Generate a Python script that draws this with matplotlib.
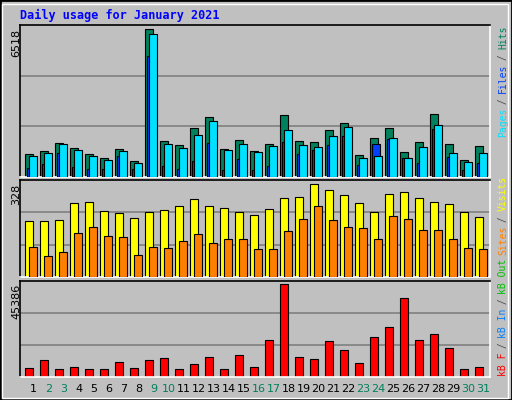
import matplotlib
matplotlib.use("Agg")
import matplotlib.pyplot as plt
from matplotlib.patches import Rectangle
import numpy as np

days = list(range(1, 32))
weekend = [2, 3, 9, 10, 16, 17, 23, 24, 30, 31]
hits = [1032,1165,1519,1298,1032,855,1254,723,6518,1608,1431,2183,2670,1254,1652,1165,
        1475,2758,1608,1563,2094,2404,988,1740,2183,1121,1563,2802,1475,767,1386]
files = [944,1077,1475,1209,944,767,1165,634,6298,1475,1298,1873,2493,1209,1475,1121,
         1386,2094,1431,1342,1829,2227,855,944,1740,855,1342,2316,1077,678,1077]
pages = [413,590,1077,457,369,369,944,369,5325,501,369,723,1519,324,811,324,
         501,1563,1032,1209,1431,1829,546,1475,1696,855,634,2139,900,324,634]
visits = [196,196,200,260,264,232,225,207,228,235,250,275,250,242,228,217,
          239,278,282,328,306,289,260,228,292,299,278,264,257,228,210]
sites = [107,75,89,154,175,143,139,78,107,103,128,150,121,135,132,100,
         100,160,203,250,200,175,171,135,214,203,164,164,132,103,100]
kbytes = [4620,8085,4125,5115,4125,4125,7095,4620,8085,9075,4125,6105,9570,4125,10560,5115,
          17985,45386,9570,8580,17490,13035,6600,19470,24420,38775,17985,20955,14025,4125,5115]

W, H = 512, 400
BG = "#C0C0C0"
fig = plt.figure(figsize=(W/100, H/100), dpi=100, facecolor=BG)
mono = "DejaVu Sans Mono"

fig.patches.append(Rectangle((0, 0), 1, 1, transform=fig.transFigure, fill=False,
                             edgecolor="black", lw=2))
fig.patches.append(Rectangle((2/W, 2/H), (W-6)/W, (H-6)/H, transform=fig.transFigure,
                             fill=False, edgecolor="white", lw=1))

def panel(top, bottom):
    ax = fig.add_axes([20/W, 1-bottom/H, 470/W, (bottom-top)/H])
    ax.set_facecolor(BG)
    ax.set_xlim(0, 470)
    ax.set_xticks([]); ax.set_yticks([])
    for s in ["left", "top"]:
        ax.spines[s].set_color("black")
    for s in ["right", "bottom"]:
        ax.spines[s].set_color("white")
    for s in ax.spines.values():
        s.set_linewidth(1.2)
    return ax

x0 = np.array([5 + 15*(d-1) for d in days], dtype=float)

ax1 = panel(25, 177)
top1 = max(hits) * 455/442
ax1.set_ylim(0, top1)
for f in (1/3, 2/3):
    ax1.axhline(top1*f, color="#808080", lw=1.2, zorder=0)
ax1.bar(x0, hits, width=7.7, align="edge", color="#00805C", edgecolor="black", lw=0.8, zorder=2)
ax1.bar(x0+2, pages, width=7.7, align="edge", color="#0040FF", edgecolor="black", lw=0.8, zorder=3)
ax1.bar(x0+4, files, width=7.7, align="edge", color="#00E0FF", edgecolor="black", lw=0.8, zorder=4)

ax2 = panel(180, 277)
top2 = max(visits) * 287/276
ax2.set_ylim(0, top2)
for f in (1/3, 2/3):
    ax2.axhline(top2*f, color="#808080", lw=1.2, zorder=0)
ax2.bar(x0, visits, width=8.3, align="edge", color="#FFFF00", edgecolor="black", lw=0.8, zorder=2)
ax2.bar(x0+4, sites, width=7.7, align="edge", color="#FF8000", edgecolor="black", lw=0.8, zorder=3)

ax3 = panel(281, 377)
top3 = max(kbytes) * 284/275
ax3.set_ylim(0, top3)
for f in (1/3, 2/3):
    ax3.axhline(top3*f, color="#808080", lw=1.2, zorder=0)
ax3.bar(x0, kbytes, width=7.7, align="edge", color="#FF0000", edgecolor="black", lw=0.8, zorder=2)

for d, x in zip(days, x0):
    fig.text((20 + x + 8.5)/W, 1-389/H, str(d), ha="center", va="center", fontsize=8,
             color="#00805C" if d in weekend else "black")

fig.text(20/W, 1-15/H, "Daily usage for January 2021", color="#0000FF", fontsize=8.5,
         fontweight="bold", family=mono, ha="left", va="center")

for val, ytop in ((max(hits), 29), (max(visits), 184), (max(kbytes), 284)):
    fig.text(16/W, 1-ytop/H, str(val), rotation=90, ha="center", va="top", fontsize=8,
             color="black")

def vlegend(parts, ybottom, step=5.5):
    y = ybottom
    for txt, col in parts:
        fig.text(503/W, 1-y/H, txt, rotation=90, ha="center", va="bottom",
                 fontsize=7, family=mono, color=col)
        y -= len(txt) * step

vlegend([("Pages", "#00E0FF"), (" / ", "#505050"), ("Files", "#0040FF"),
         (" / ", "#505050"), ("Hits", "#00805C")], 137)
vlegend([("kB F", "#FF0000"), (" / ", "#505050"), ("kB In", "#0080FF"),
         (" / ", "#505050"), ("kB Out", "#00C000"), (" ", "#505050"),
         ("Sites", "#FF8000"), (" / ", "#505050"), ("Visits", "#FFFF00")], 376)

fig.savefig("out.png", dpi=100, facecolor=BG)
